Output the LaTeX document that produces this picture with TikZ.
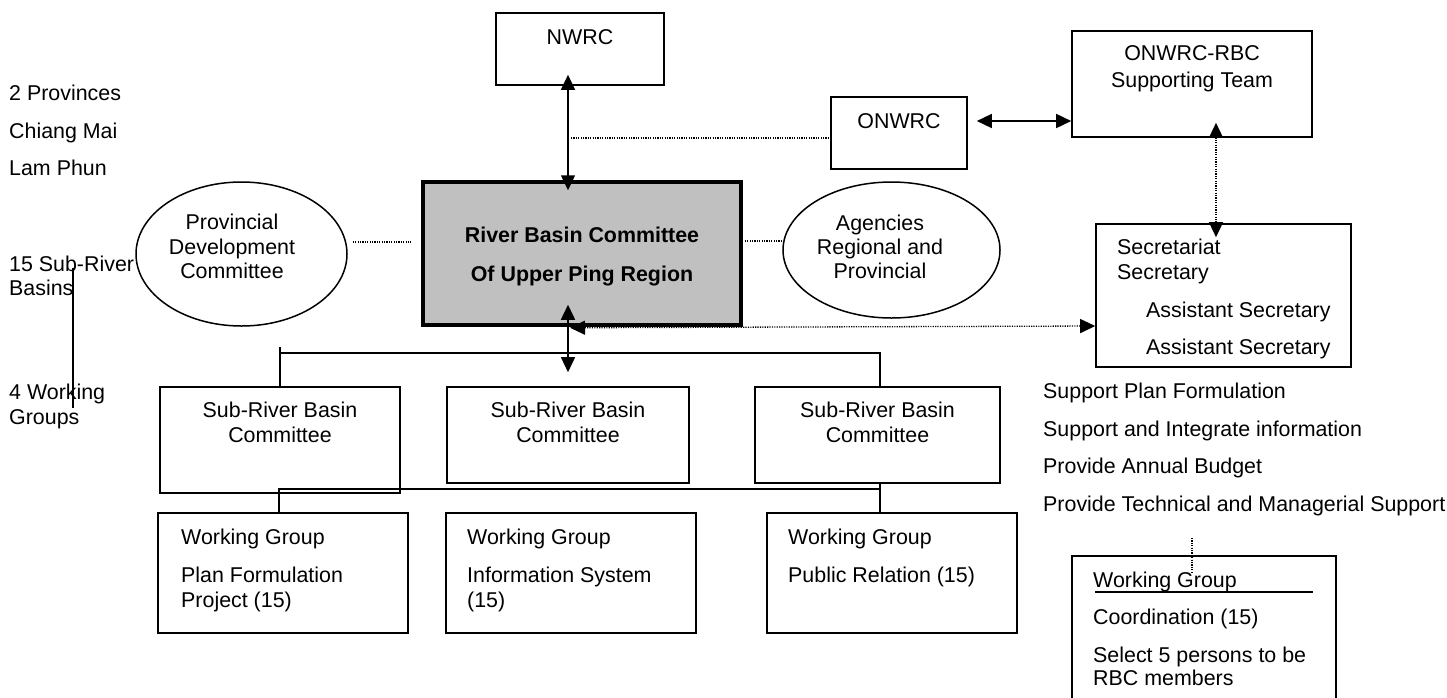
\documentclass[tikz,border=0pt]{standalone}
\usepackage{fontspec}
\setmainfont{Liberation Sans}
\usetikzlibrary{arrows.meta,shapes.geometric}
\newcommand\dfont{\fontsize{21.4}{24.4}\selectfont}
\definecolor{boxgray}{HTML}{C0C0C0}
\begin{document}
\begin{tikzpicture}[x=1pt,y=-1pt,
  box/.style={draw, line width=1.6pt, inner sep=0pt, rectangle},
  oval/.style={draw, line width=1.5pt, inner sep=0pt, ellipse},
  lbl/.style={anchor=base west, inner sep=0pt, font=\dfont},
  clbl/.style={anchor=base, inner sep=0pt, font=\dfont},
  conn/.style={line width=1.5pt},
  dotln/.style={line width=1.3pt, dash pattern=on 1.2pt off 1.2pt},
  tips/.style={{Triangle[length=15pt,width=14pt]}-{Triangle[length=15pt,width=14pt]}},
]
\useasboundingbox (0,0) rectangle (1447,697);
\clip (0,0) rectangle (1447,697);

% boxes
\node[box, minimum width=168pt, minimum height=72pt] (nwrc) at (580,49) {};
\node[box, minimum width=136pt, minimum height=72pt] (onwrc) at (899,133) {};
\node[box, minimum width=240pt, minimum height=106pt] (rbcteam) at (1192,84) {};
\node[draw, line width=3.5pt, fill=boxgray, inner sep=0pt, minimum width=318pt, minimum height=143pt] (main) at (582,253.5) {};
\node[box, minimum width=255pt, minimum height=143pt] (sec) at (1223.5,295.5) {};
\node[box, minimum width=240pt, minimum height=106pt] (sub1) at (280,440) {};
\node[box, minimum width=242pt, minimum height=96pt] (sub2) at (568,435) {};
\node[box, minimum width=245pt, minimum height=96pt] (sub3) at (877.5,435) {};
\node[box, minimum width=250pt, minimum height=120pt] (wg1) at (283,573) {};
\node[box, minimum width=250pt, minimum height=120pt] (wg2) at (571,573) {};
\node[box, minimum width=250pt, minimum height=120pt] (wg3) at (892,573) {};
\node[box, minimum width=264pt, minimum height=168pt] (wgc) at (1204,640) {};
\node[oval, minimum width=211pt, minimum height=144pt] (prov) at (241.5,254) {};
\node[oval, minimum width=217pt, minimum height=136pt] (agen) at (891.5,250) {};

% texts
\node[lbl] (l1) at (9,100) {2 Provinces};
\node[lbl] (l2) at (9,138) {Chiang Mai};
\node[lbl] (l3) at (9,175) {Lam Phun};
\node[lbl] (l4) at (9,271) {15 Sub-River};
\node[lbl] (l5) at (9,295) {Basins};
\node[lbl] (l6) at (9,399) {4 Working};
\node[lbl] (l7) at (9,424) {Groups};

\node[clbl] (tnwrc) at (580,44) {NWRC};
\node[clbl] (tonwrc) at (899,128) {ONWRC};
\node[clbl] (trbc1) at (1192,60) {ONWRC-RBC};
\node[clbl] (trbc2) at (1192,87) {Supporting Team};

\node[clbl, font=\dfont\bfseries] (tm1) at (582,242) {River Basin Committee};
\node[clbl, font=\dfont\bfseries] (tm2) at (582,281) {Of Upper Ping Region};

\node[clbl] (tp1) at (232,229) {Provincial};
\node[clbl] (tp2) at (232,254) {Development};
\node[clbl] (tp3) at (232,278) {Committee};

\node[clbl] (ta1) at (880,230) {Agencies};
\node[clbl] (ta2) at (880,254) {Regional and};
\node[clbl] (ta3) at (880,278) {Provincial};

\node[clbl] (ts11) at (280,417) {Sub-River Basin};
\node[clbl] (ts12) at (280,442) {Committee};
\node[clbl] (ts21) at (568,417) {Sub-River Basin};
\node[clbl] (ts22) at (568,442) {Committee};
\node[clbl] (ts31) at (877.5,417) {Sub-River Basin};
\node[clbl] (ts32) at (877.5,442) {Committee};

\node[lbl] (tw11) at (181,544) {Working Group};
\node[lbl] (tw12) at (181,582) {Plan Formulation};
\node[lbl] (tw13) at (181,607) {Project (15)};
\node[lbl] (tw21) at (467,544) {Working Group};
\node[lbl] (tw22) at (467,582) {Information System};
\node[lbl] (tw23) at (467,607) {(15)};
\node[lbl] (tw31) at (788,544) {Working Group};
\node[lbl] (tw32) at (788,582) {Public Relation (15)};

\node[lbl] (tsec1) at (1117,254) {Secretariat};
\node[lbl] (tsec2) at (1117,279) {Secretary};
\node[lbl] (tsec3) at (1146,317) {Assistant Secretary};
\node[lbl] (tsec4) at (1146,354) {Assistant Secretary};

\node[lbl] (r1) at (1043,398) {Support Plan Formulation};
\node[lbl] (r2) at (1043,436) {Support and Integrate information};
\node[lbl] (r3) at (1043,473) {Provide Annual Budget};
\node[lbl] (r4) at (1043,511) {Provide Technical and Managerial Support};

\node[lbl] (tc1) at (1093,587) {Working Group};
\node[lbl] (tc2) at (1093,624) {Coordination (15)};
\node[lbl] (tc3) at (1093,662) {Select 5 persons to be};
\node[lbl] (tc4) at (1093,685) {RBC members};
\coordinate (ul1) at (1095,592);
\coordinate (ul2) at (1313,592);
\draw[conn] (ul1) -- (ul2);

% connectors
\draw[conn,tips] ([xshift=-12pt,yshift=11pt]nwrc.south) -- ([xshift=-14pt,yshift=-10pt]main.north);
\coordinate (d1) at (571,138);
\draw[dotln] (d1) -- (d1 -| onwrc.west);
\draw[conn,tips] ([xshift=9pt,yshift=12pt]onwrc.east) -- ([yshift=12pt]onwrc.east -| rbcteam.west);
\draw[dotln,tips] ([xshift=24pt,yshift=15pt]rbcteam.south) -- ([xshift=-7.5pt,yshift=-14pt]sec.north);
\draw[dotln,tips] ([xshift=-12pt,yshift=-1pt]main.south) -- ([yshift=-30.5pt]sec.west);
\draw[conn,tips] ([xshift=-14pt,yshift=22pt]main.south) -- ([yshift=14pt]sub2.north);
\draw[dotln] ([xshift=5pt,yshift=12pt]prov.east) -- ([xshift=-10pt,yshift=11.5pt]main.west);
\draw[dotln] ([xshift=2pt,yshift=12.5pt]main.east) -- ([yshift=9pt]agen.west);

% bracket above sub-river basin committees
\draw[conn] ([yshift=39pt]sub1.north) -- (sub1.north);
\draw[conn] ([yshift=33pt]sub1.north) -| ([xshift=2.5pt]sub3.north);

% lower bracket
\coordinate (lj) at (279,489);
\coordinate (rj) at (880,489);
\draw[conn] ([xshift=-4pt]wg1.north) -- (lj) -- (rj);
\draw[conn] ([xshift=2.5pt]sub3.south) -- ([xshift=-12pt]wg3.north);

% left vertical line
\coordinate (lv1) at (73,268);
\coordinate (lv2) at (73,408);
\draw[conn] (lv1) -- (lv2);

% dotted to coordination box
\coordinate (cd1) at (1192,538);
\draw[dotln] (cd1) -- ([xshift=-12pt,yshift=-17pt]wgc.north);
\end{tikzpicture}
\end{document}
